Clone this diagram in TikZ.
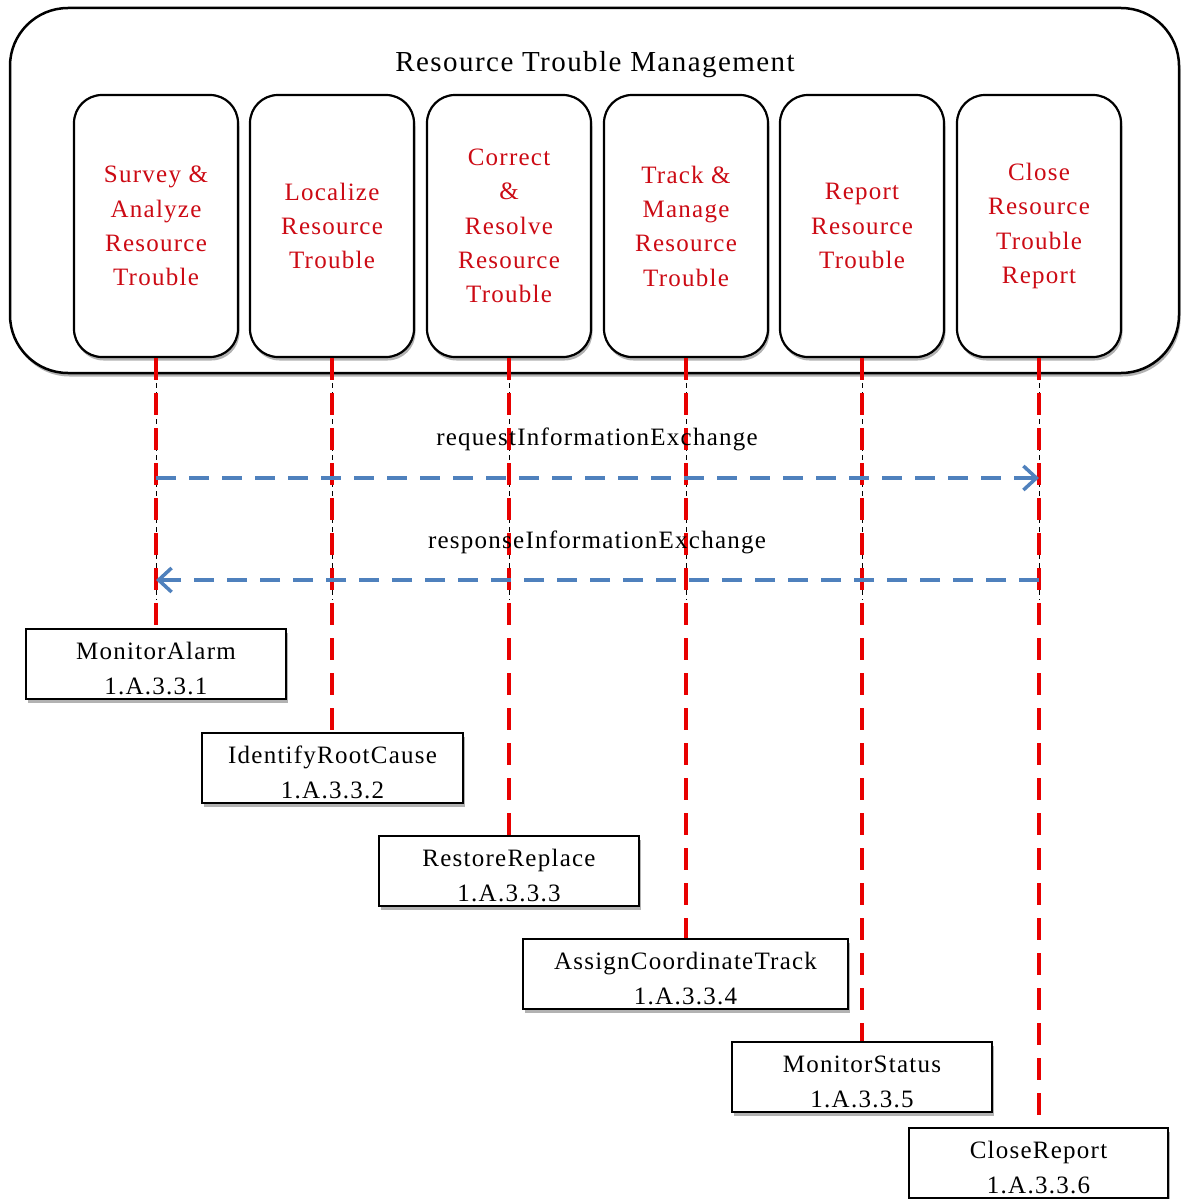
\documentclass[tikz,border=0pt]{standalone}
\usepackage{fontspec}
\setmainfont{Liberation Serif}
\newfontfamily\spaced[LetterSpace=5]{Liberation Serif}
\usetikzlibrary{shadows,arrows.meta}

\definecolor{labelred}{RGB}{204,10,20}
\definecolor{lifered}{RGB}{232,0,0}
\definecolor{msgblue}{RGB}{79,129,189}

\begin{document}
\begin{tikzpicture}[x=1pt,y=-1pt,
  softshadow/.style={drop shadow={shadow xshift=1.5pt,shadow yshift=-3.5pt,opacity=.3,fill=black}},
  container/.style={draw=black,line width=2.5pt,rounded corners=58pt,fill=white,softshadow,
    minimum width=1169pt,minimum height=365pt,inner sep=0pt},
  subproc/.style={draw=black,line width=2.2pt,rounded corners=28pt,fill=white,softshadow,
    minimum width=164pt,minimum height=262pt,inner sep=0pt,align=center,text=labelred,
    font=\spaced\fontsize{25}{34.3}\selectfont},
  task/.style={draw=black,line width=2.8pt,fill=white,softshadow,minimum height=70pt,
    inner sep=0pt,align=center,font=\spaced\fontsize{25}{35}\selectfont},
  lifeline/.style={draw=lifered,line width=4pt,dash pattern=on 22pt off 13pt},
  guide/.style={draw=black,line width=0.8pt,dash pattern=on 5pt off 4pt},
  msg/.style={draw=msgblue,line width=4pt,dash pattern=on 20pt off 13pt,
    -{Straight Barb[length=13pt,width=24pt,line width=3.5pt]}},
  msglabel/.style={anchor=base,font=\spaced\fontsize{25}{30}\selectfont},
]
\fill[white] (0,0) rectangle (1181,1199);
\useasboundingbox (0,0) rectangle (1181,1199);

% enclosing process
\node[container] (outer) at (594.5,190.5) {};
\node[anchor=base,font=\spaced\fontsize{29}{34}\selectfont] (title) at (595,71) {Resource Trouble Management};

% sub-processes
\node[subproc] (s1) at (156,226) {Survey \&\\Analyze\\Resource\\Trouble};
\node[subproc] (s2) at (332,226) {Localize\\Resource\\Trouble};
\node[subproc] (s3) at (509,226) {Correct\\\&\\Resolve\\Resource\\Trouble};
\node[subproc] (s4) at (686,226) {Track \&\\Manage\\Resource\\Trouble};
\node[subproc] (s5) at (862,226) {Report\\Resource\\Trouble};
\node[subproc] (s6) at (1039,226) {Close\\Resource\\Trouble\\Report};

% tasks
\newcommand{\firstline}{\rule{0pt}{27pt}}
\node[task,minimum width=260pt] (a1) at (156,664) {\firstline MonitorAlarm\\1.A.3.3.1};
\node[task,minimum width=261pt] (a2) at (332.5,768) {\firstline IdentifyRootCause\\1.A.3.3.2};
\node[task,minimum width=260pt] (a3) at (509,871) {\firstline RestoreReplace\\1.A.3.3.3};
\node[task,minimum width=325pt] (a4) at (685.5,974) {\firstline AssignCoordinateTrack\\1.A.3.3.4};
\node[task,minimum width=260pt] (a5) at (862,1077) {\firstline MonitorStatus\\1.A.3.3.5};
\node[task,minimum width=259pt] (a6) at (1038.5,1163) {\firstline CloseReport\\1.A.3.3.6};

% lifelines
\coordinate (guideend) at (0,600);
\foreach \i in {1,...,6} {
  \draw[guide] (s\i.south |- outer.south) -- (s\i.south |- guideend);
  \draw[lifeline] (s\i.south) -- (s\i.south |- a\i.north);
}

% information exchange
\coordinate (reqy) at (0,478);
\coordinate (resy) at (0,580);
\draw[msg] (s1.south |- reqy) -- (s6.south |- reqy);
\draw[msg] (s6.south |- resy) -- (s1.south |- resy);
\node[msglabel] (reqlbl) at (597,445) {requestInformationExchange};
\node[msglabel] (reslbl) at (597,548) {responseInformationExchange};
\end{tikzpicture}
\end{document}
